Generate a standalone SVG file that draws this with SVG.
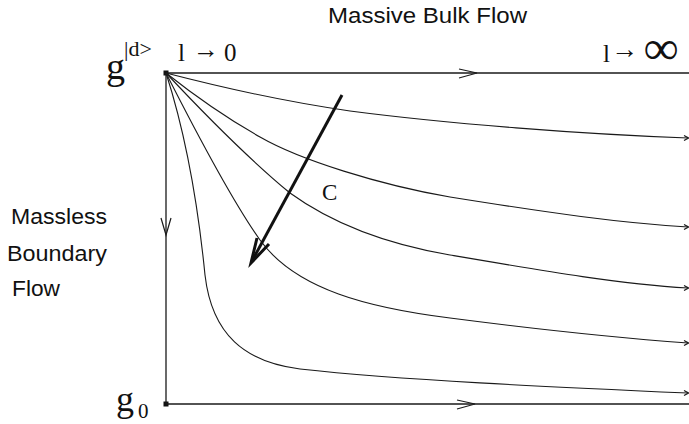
<svg xmlns="http://www.w3.org/2000/svg" width="689" height="424" viewBox="0 0 689 424">
<style>
.ser{font-family:"Liberation Serif","Times New Roman",serif;fill:#111}
.sans{font-family:"Liberation Sans",Arial,sans-serif;font-size:22.5px;fill:#111}
.ln{fill:none;stroke:#1a1a1a;stroke-width:1.3}
.cv{fill:none;stroke:#1a1a1a;stroke-width:1.1}
.chev{fill:none;stroke:#1a1a1a;stroke-width:1.2}
</style>
<rect width="689" height="424" fill="#fff"/>
<g id="titles">
<text class="sans" x="328" y="23" textLength="199" lengthAdjust="spacingAndGlyphs">Massive Bulk Flow</text>
<text class="sans" x="11" y="224" textLength="96" lengthAdjust="spacingAndGlyphs">Massless</text>
<text class="sans" x="7" y="261" textLength="100" lengthAdjust="spacingAndGlyphs">Boundary</text>
<text class="sans" x="12" y="296" textLength="48" lengthAdjust="spacingAndGlyphs">Flow</text>
</g>
<g id="node-gd">
<rect x="163.5" y="70.5" width="5" height="5" fill="#111"/>
<text class="ser" x="106" y="79" font-size="38">g</text>
<text class="ser" x="124" y="56" font-size="22">|d&gt;</text>
<text class="ser" x="178" y="61" font-size="25">l</text>
<text class="ser" x="193" y="58" font-size="26">→</text>
<text class="ser" x="224" y="61" font-size="25">0</text>
</g>
<g id="node-g0">
<rect x="163.5" y="401.5" width="5" height="5" fill="#111"/>
<text class="ser" x="116" y="411" font-size="36">g</text>
<text class="ser" x="138" y="418" font-size="21">0</text>
</g>
<g id="node-inf">
<text class="ser" x="603" y="62" font-size="25">l</text>
<text class="ser" x="611" y="58" font-size="27">→</text>
<text class="ser" x="644" y="64" font-size="48" font-weight="bold">∞</text>
</g>
<g id="connectors">
<line class="ln" x1="166" y1="73" x2="689" y2="73"/>
<polyline class="chev" points="459,69 477,73 459,78"/>
<line class="ln" x1="166" y1="73" x2="166" y2="404"/>
<polyline class="chev" points="161,218 166,235 171,218"/>
<line class="ln" x1="166" y1="404" x2="689" y2="404"/>
<polyline class="chev" points="457,400 475,404 457,409"/>
<path class="cv" d="M166,73 C220,87 280,101 350,111 C450,124 580,134 688,138"/>
<path class="cv" d="M166,73 C200,100 230,120 260,137 C300,160 380,185 450,197 C550,213 620,223 688,227"/>
<path class="cv" d="M166,73 C210,120 250,160 290,193 C330,222 380,243 450,255 C550,272 620,284 688,288"/>
<path class="cv" d="M166,73 C200,140 235,205 260,240 C296,290 370,308 450,318 C550,331 620,338 688,343"/>
<path class="cv" d="M166,73 C186,135 198,205 205,275 C212,335 245,362 300,369 C400,380 550,387 688,393"/>
<g class="chev">
<polyline points="684,135.5 688.5,138 684,140.5"/>
<polyline points="684,224.5 688.5,227 684,229.5"/>
<polyline points="684,285.5 688.5,288 684,290.5"/>
<polyline points="684,340.5 688.5,343 684,345.5"/>
<polyline points="684,390.5 688.5,393 684,395.5"/>
</g>
<g id="arrow-c">
<line x1="342" y1="95" x2="252" y2="261" stroke="#111" stroke-width="3"/>
<polyline points="257,238 251,263 269,244" fill="none" stroke="#111" stroke-width="3" stroke-linejoin="miter"/>
</g>
</g>
<text class="ser" x="322" y="200" font-size="23">C</text>
</svg>
